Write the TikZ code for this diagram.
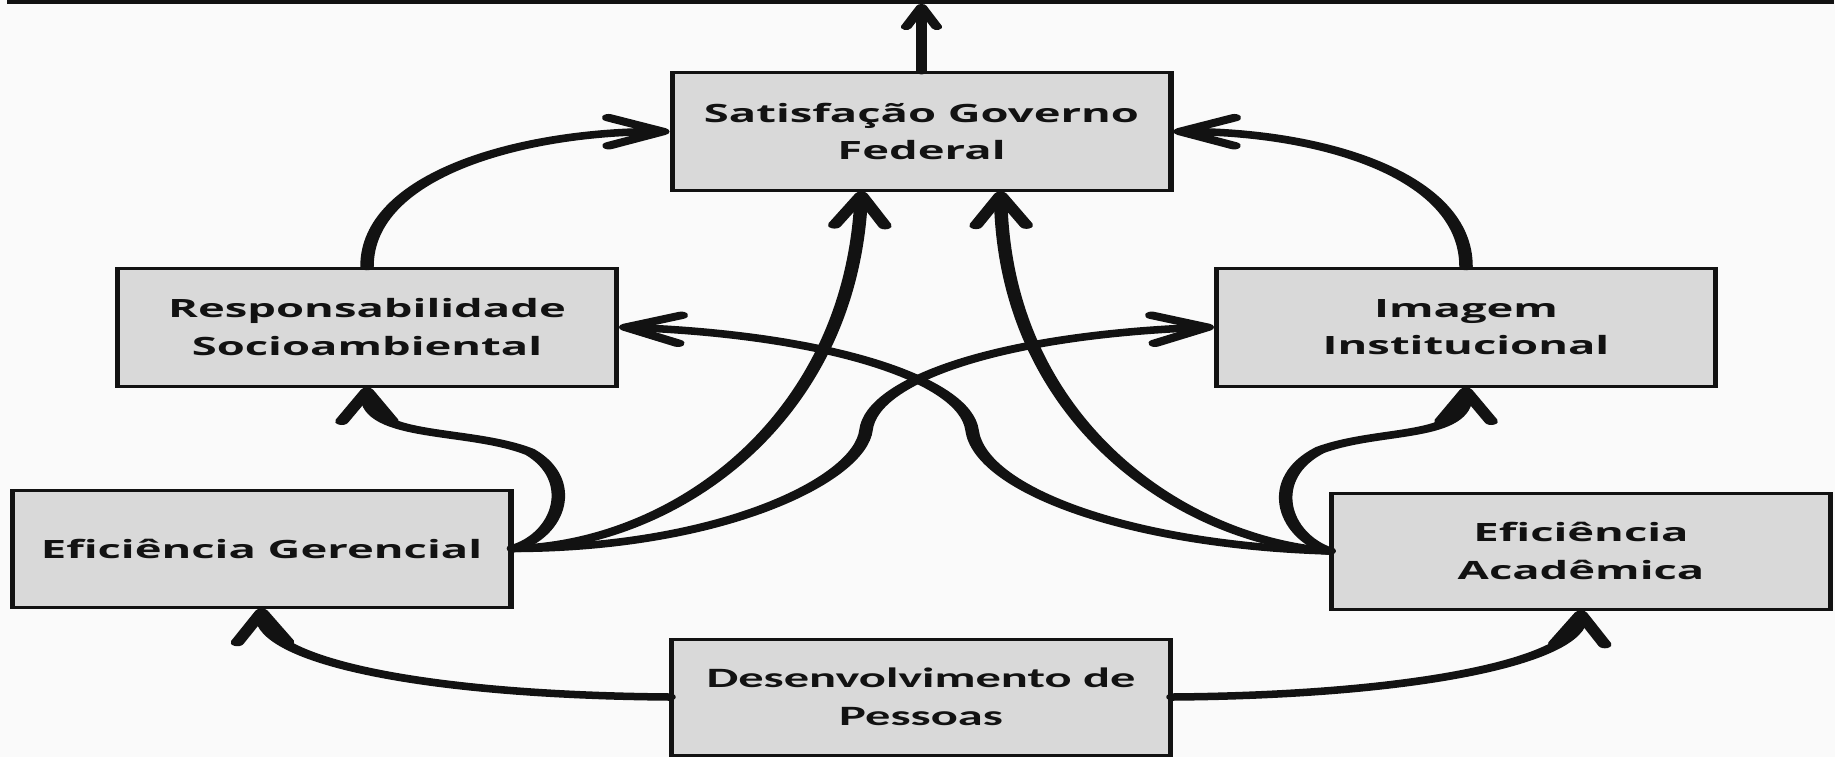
\documentclass[tikz,border=0pt]{standalone}
\usepackage{fontspec}
\newfontfamily\boxfont{Open Sans}
\newfontfamily\desfont{Carlito}
\usetikzlibrary{arrows.meta,calc}
\definecolor{boxgray}{RGB}{217,217,217}
\definecolor{bg}{RGB}{250,250,250}
\definecolor{ink}{RGB}{18,18,18}
\begin{document}
\begin{tikzpicture}
\useasboundingbox (0pt,0pt) rectangle (1835pt,-757pt);
\fill[bg] (0pt,0pt) rectangle (1835pt,-757pt);
\clip (0pt,0pt) rectangle (1835pt,-757pt);
\begin{scope}[transform canvas={xscale=1.8}, x=0.5555556pt, y=-1pt,
  box/.style={draw=ink, line width=3pt, fill=boxgray, align=center, inner sep=0pt, text=ink,
    minimum width=277pt, minimum height=117pt,
    font=\boxfont\bfseries\fontsize{25.2}{37.5}\selectfont},
  conn/.style={draw=ink, line width=7.5pt, line cap=round,
    -{Straight Barb[length=30pt,width=28pt,round]}},
  topconn/.style={draw=ink, line width=6pt, line cap=round,
    -{Straight Barb[length=20pt,width=17pt,round]}}]
\node[draw=ink, line width=4pt, fill=boxgray, minimum width=1011pt, minimum height=60pt, inner sep=0pt] (top) at (920,-28) {};
\node[box] (sat) at (921.5,131.5) {Satisfação Governo\\Federal};
\node[box, minimum height=118pt] (resp) at (367,327) {Responsabilidade\\Socioambiental};
\node[box, minimum height=118pt] (img) at (1466,327) {Imagem\\Institucional};
\node[box] (ger) at (261.5,548.5) {Eficiência Gerencial};
\node[box, minimum height=116pt] (acad) at (1581,551) {Eficiência\\Acadêmica};
\node[box, minimum height=116pt, font=\desfont\bfseries\fontsize{28}{38.5}\selectfont] (des) at (921,697) {Desenvolvimento de\\Pessoas};

\draw[topconn] (sat.north) -- (sat.north |- top.south);
\draw[conn] (resp.north) .. controls (367,175) and (520,132) .. (sat.west);
\draw[conn] (img.north) .. controls (1466,175) and (1322,132) .. (sat.east);
\draw[conn] (ger.east) .. controls (560,535) and (578,480) .. (530,452) .. controls (470,428) and (367,440) .. (resp.south);
\draw[conn] (ger.east) .. controls (675,545) and (850,420) .. ($(sat.south)+(-60,0)$);
\draw[conn] (ger.east) .. controls (720,548) and (860,480) .. (866,430) .. controls (872,380) and (1000,335) .. (img.west);
\draw[conn] (acad.west) .. controls (1282,535) and (1265,478) .. (1320,450) .. controls (1380,428) and (1466,440) .. (img.south);
\draw[conn] (acad.west) .. controls (1180,540) and (1005,420) .. ($(sat.south)+(79,0)$);
\draw[conn] (acad.west) .. controls (1130,545) and (980,490) .. (972,430) .. controls (965,380) and (830,335) .. (resp.east);
\draw[conn] (des.west) .. controls (420,695) and (263,660) .. (ger.south);
\draw[conn] (des.east) .. controls (1420,695) and (1579,660) .. (acad.south);
\end{scope}
\end{tikzpicture}
\end{document}
